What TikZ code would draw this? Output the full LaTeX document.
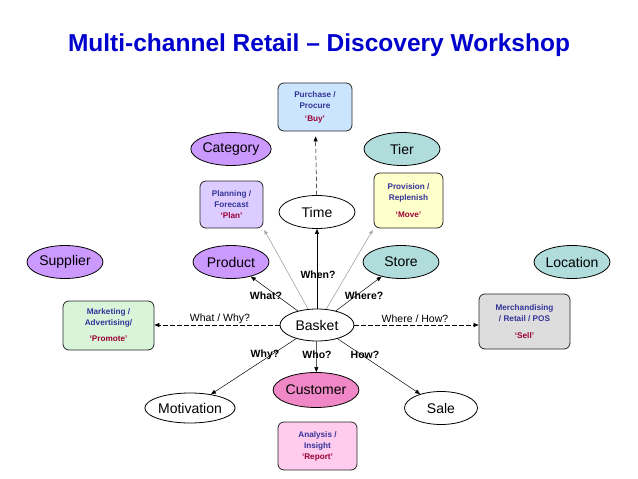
\documentclass[tikz,border=0pt]{standalone}
\usepackage{fontspec}
\setmainfont{Liberation Sans}
\usetikzlibrary{shapes.geometric,arrows.meta}
\definecolor{titleblue}{RGB}{0,0,204}
\definecolor{txtblue}{RGB}{51,51,153}
\definecolor{txtred}{RGB}{153,0,51}
\definecolor{purpfill}{RGB}{204,153,255}
\definecolor{tealfill}{RGB}{176,220,220}
\definecolor{planfill}{RGB}{221,204,255}
\definecolor{buyfill}{RGB}{204,229,255}
\definecolor{movefill}{RGB}{255,255,204}
\definecolor{promfill}{RGB}{217,245,217}
\definecolor{sellfill}{RGB}{221,221,221}
\definecolor{custfill}{RGB}{240,136,200}
\definecolor{repfill}{RGB}{255,204,238}
\tikzset{
  ell/.style={ellipse, draw=black, line width=0.8pt, inner sep=0pt,
    minimum width=76pt, minimum height=33pt, font=\fontsize{14}{16}\selectfont},
  bx/.style={draw=black!85, line width=0.8pt, rounded corners=6pt, inner sep=1pt,
    align=center, font=\fontsize{8.2}{11}\selectfont\bfseries, text=txtblue},
  arr/.style={-{Triangle[length=5pt,width=4pt]}, line width=0.5pt},
  darr/.style={-{Triangle[length=5pt,width=4pt]}, line width=0.5pt, dashed, dash pattern=on 4.5pt off 2.5pt},
  garr/.style={-{Triangle[length=4pt,width=3.5pt]}, line width=0.3pt, draw=black!35, fill=black, shorten >=2pt},
  lbl/.style={font=\fontsize{10.5}{12}\selectfont\bfseries, inner sep=0pt},
  nlbl/.style={font=\fontsize{10.5}{12}\selectfont, inner sep=0pt},
}
\newcommand{\qt}[1]{\textcolor{txtred}{‘#1’}}
\begin{document}
\begin{tikzpicture}[x=1pt,y=-1pt]
\useasboundingbox (0,0) rectangle (638,479);
\node[font=\fontsize{24.5}{28}\selectfont\bfseries, text=titleblue] (title) at (319,45) {Multi-channel Retail – Discovery Workshop};

% boxes
\node[bx, fill=buyfill, minimum width=74pt, minimum height=48pt] (buy) at (315,107) {Purchase /\\Procure\\[2pt]\qt{Buy}};
\node[bx, fill=planfill, minimum width=63pt, minimum height=47pt] (plan) at (231.5,204.5) {Planning /\\Forecast\\\qt{Plan}};
\node[bx, fill=movefill, minimum width=69pt, minimum height=55pt] (move) at (408.5,200.5) {Provision /\\Replenish\\[6pt]\qt{Move}};
\node[bx, fill=promfill, minimum width=91pt, minimum height=49pt] (prom) at (108.5,325.5) {Marketing /\\Advertising/\\[5pt]\qt{Promote}};
\node[bx, fill=sellfill, minimum width=91pt, minimum height=55pt] (sell) at (524.5,321.5) {Merchandising\\/ Retail / POS\\[6pt]\qt{Sell}};
\node[bx, fill=repfill, minimum width=79pt, minimum height=48pt] (rep) at (317.5,446) {Analysis /\\Insight\\\qt{Report}};

% ellipses
\node[ell, fill=purpfill] (cat) at (231,149) {Category};
\node[ell, fill=tealfill] (tier) at (402,149) {Tier};
\node[ell, fill=white] (time) at (317,212) {Time};
\node[ell, fill=purpfill] (sup) at (65,262) {Supplier};
\node[ell, fill=purpfill] (prod) at (231,262) {Product};
\node[ell, fill=tealfill] (store) at (401,262) {Store};
\node[ell, fill=tealfill] (loc) at (572,262) {Location};
\node[ell, fill=white, minimum width=74pt, minimum height=32pt] (bask) at (317,325) {Basket};
\node[ell, fill=custfill, minimum height=35pt] (cust) at (316,390) {Customer};
\node[ell, fill=white, minimum width=75pt, minimum height=30pt] (mot) at (190,408) {Motivation};
\node[ell, fill=white, minimum width=73pt, minimum height=33pt] (sale) at (441,408) {Sale};

% connectors
\draw[darr, shorten >=5pt] (time) -- (buy);
\draw[garr] (bask) -- (plan.south east);
\draw[garr] (bask) -- (move.south west);
\draw[arr] (bask) -- (time);
\draw[arr] (bask) -- (prod);
\draw[arr] (bask) -- (store);
\draw[arr] (bask) -- (cust);
\draw[arr] (bask) -- (mot);
\draw[arr] (bask) -- (sale);
\draw[darr] (bask.west) -- (bask.west -| prom.east);
\draw[darr] (bask.east) -- (bask.east -| sell.west);

% labels
\node[lbl] (lwhen) at (318,275) {When?};
\node[lbl] (lwhat) at (266,296) {What?};
\node[lbl] (lwhere) at (364,296) {Where?};
\node[lbl] (lwhy) at (265,355) {Why?};
\node[lbl] (lwho) at (317,355) {Who?};
\node[lbl] (lhow) at (365,355) {How?};
\node[nlbl] (lww) at (220,319) {What / Why?};
\node[nlbl] (lwh) at (415,319) {Where / How?};
\end{tikzpicture}
\end{document}
